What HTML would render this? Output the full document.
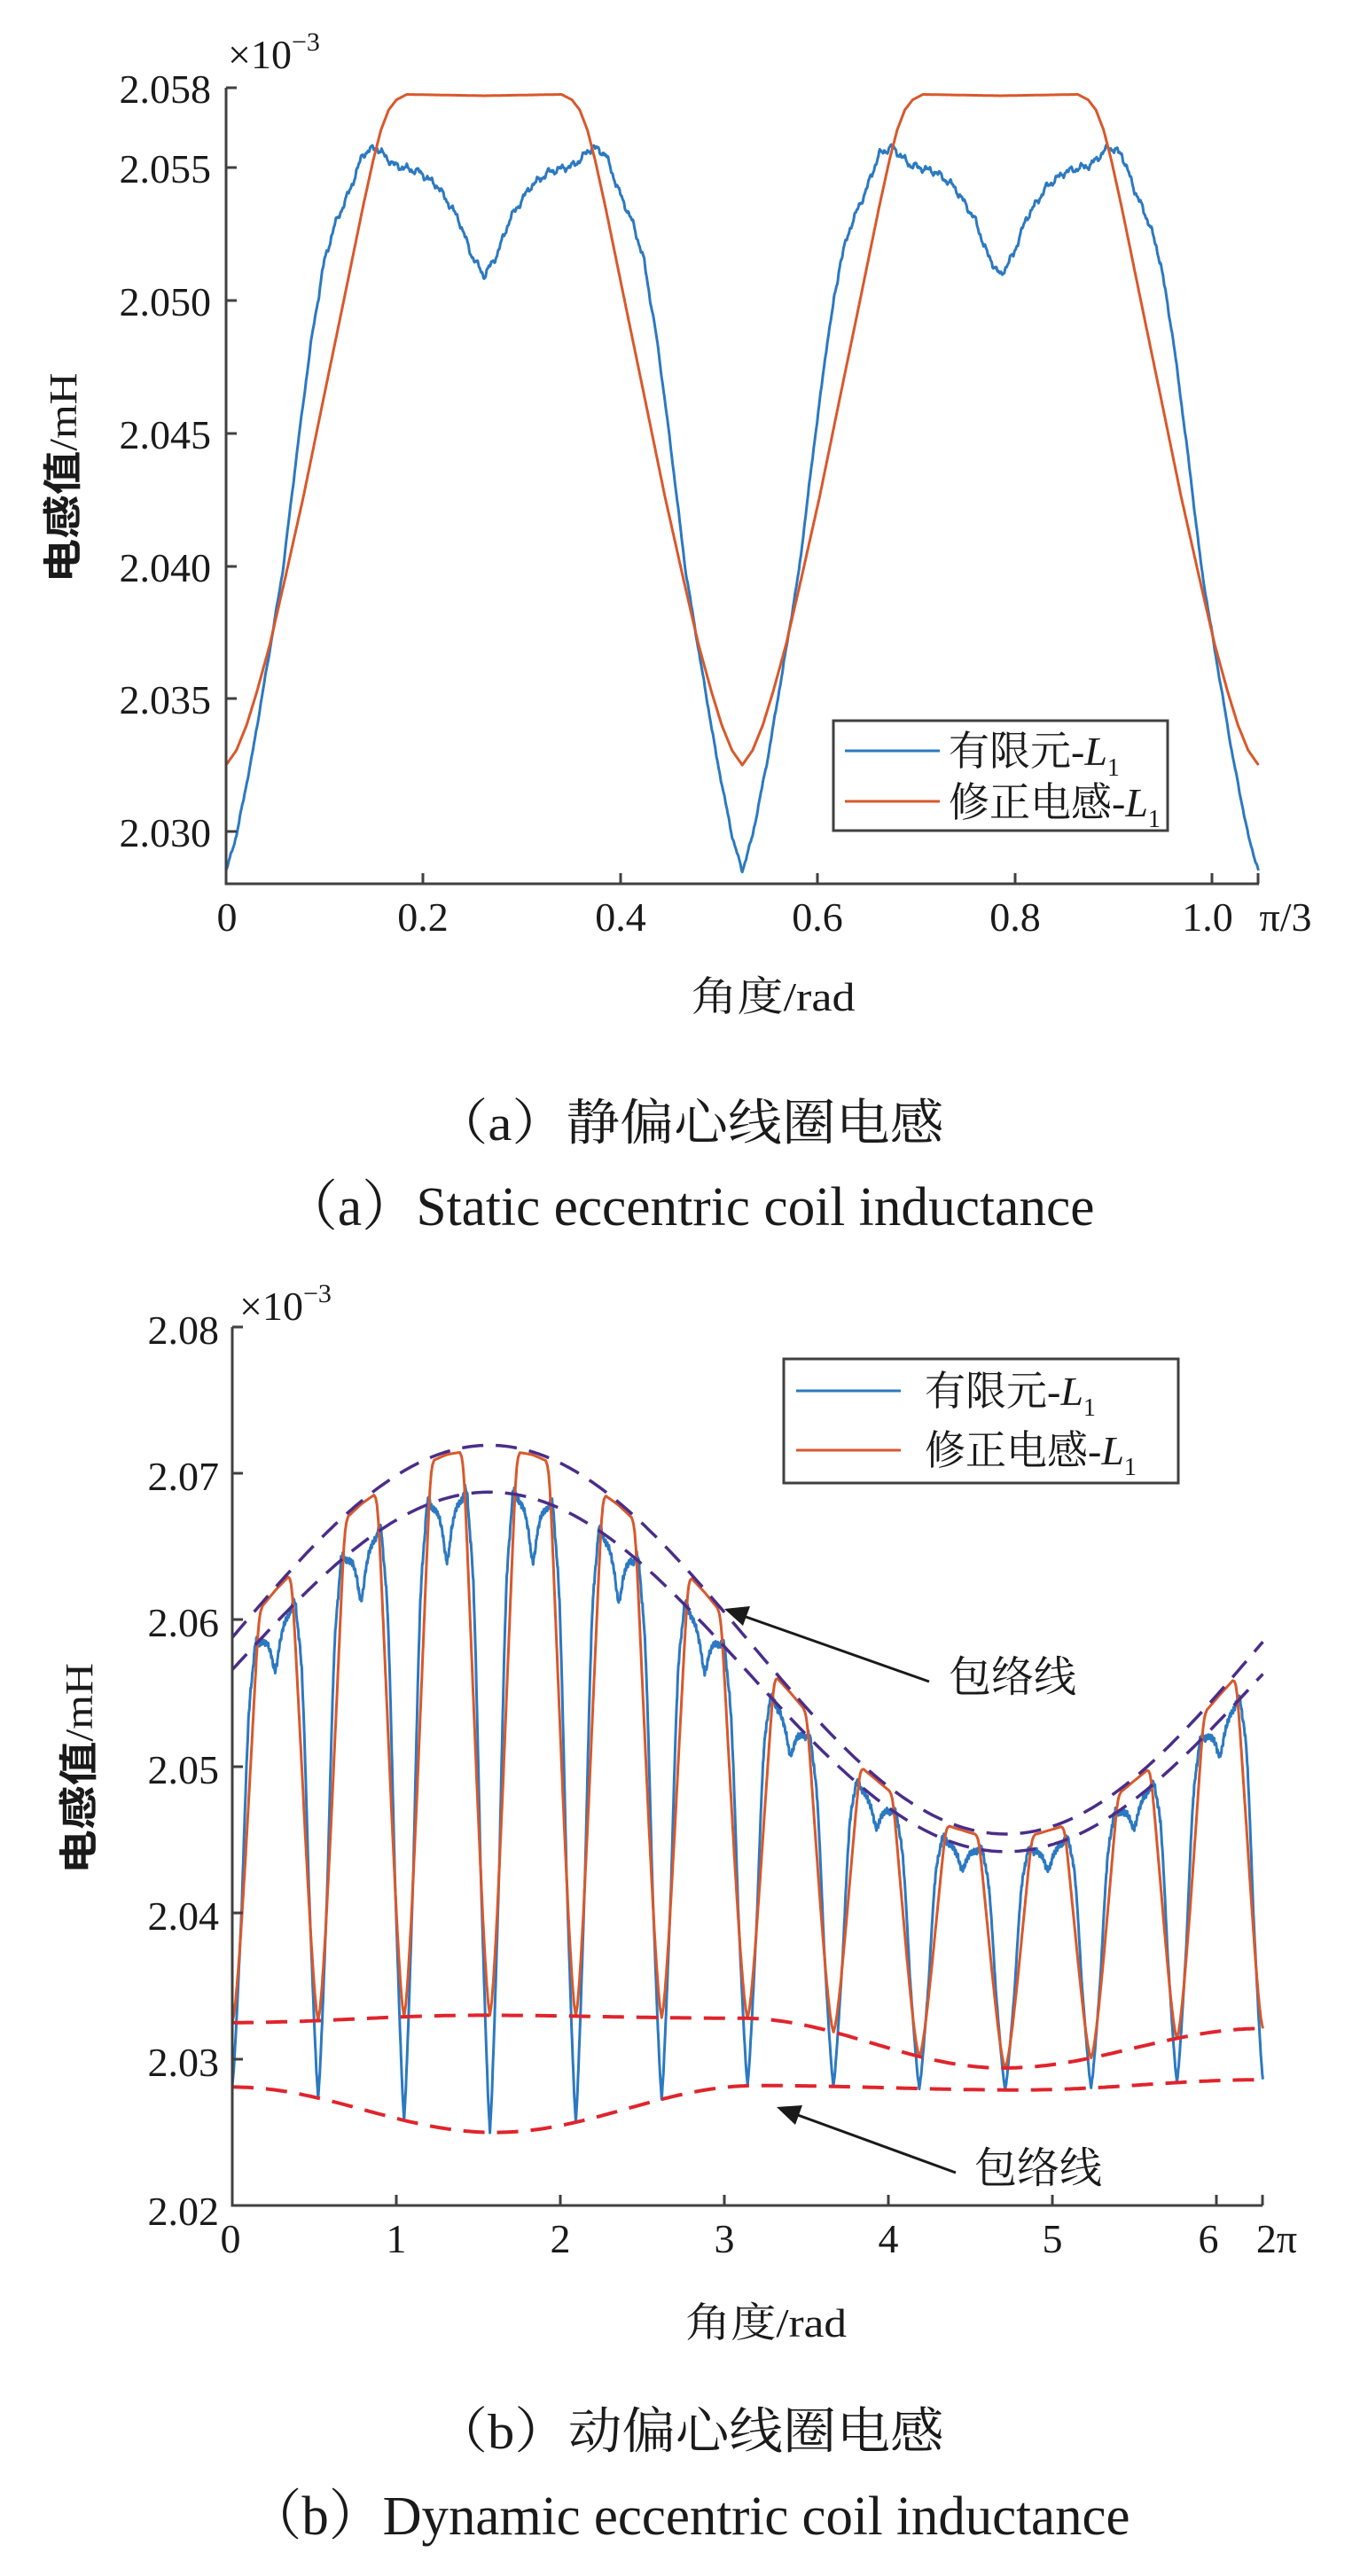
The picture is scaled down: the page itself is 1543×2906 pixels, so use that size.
<!DOCTYPE html>
<html><head><meta charset="utf-8">
<style>
html,body{margin:0;padding:0;background:#fff;}
svg{display:block;}
text{font-family:"Liberation Serif","Noto Serif CJK SC",serif;fill:#1a1a1a;}
.bold{font-family:"Liberation Sans","Noto Sans CJK SC",sans-serif;font-weight:700;}
</style></head>
<body>
<svg id="s" width="1543" height="2906" viewBox="0 0 1543 2906" xmlns="http://www.w3.org/2000/svg">
<rect width="1543" height="2906" fill="#fff"/>
<g id="plots"></g>

<g stroke="#404040" stroke-width="3" fill="none">
<path d="M255,99 V997 H1420"/>
<path d="M255,99 h12 M255,189 h12 M255,339 h12 M255,489 h12 M255,639 h12 M255,788 h12 M255,938 h12"/>
<path d="M477,997 v-12 M700,997 v-12 M922,997 v-12 M1145,997 v-12 M1367,997 v-12 M1419,997 v-12"/>
</g>
<g font-size="46" text-anchor="end">
<text x="238" y="116">2.058</text>
<text x="238" y="206">2.055</text>
<text x="238" y="356">2.050</text>
<text x="238" y="506">2.045</text>
<text x="238" y="656">2.040</text>
<text x="238" y="805">2.035</text>
<text x="238" y="955">2.030</text>
</g>
<g font-size="46" text-anchor="middle">
<text x="256" y="1050">0</text>
<text x="477" y="1050">0.2</text>
<text x="700" y="1050">0.4</text>
<text x="922" y="1050">0.6</text>
<text x="1145" y="1050">0.8</text>
<text x="1362" y="1050">1.0</text>
<text x="1450" y="1050">π/3</text>
</g>
<text x="257" y="77" font-size="46">×10<tspan dy="-20" font-size="30">−3</tspan></text>
<text transform="translate(86,539) rotate(-90)" text-anchor="middle" font-size="44" textLength="237" lengthAdjust="spacingAndGlyphs"><tspan class="bold">电感值</tspan>/mH</text>
<text x="872" y="1140" text-anchor="middle" font-size="46" textLength="185" lengthAdjust="spacingAndGlyphs">角度/rad</text>
<rect x="940" y="813" width="377" height="124" fill="#fff" stroke="#404040" stroke-width="3"/>
<line x1="953" y1="847" x2="1060" y2="847" stroke="#2b79c2" stroke-width="3"/>
<line x1="953" y1="904" x2="1060" y2="904" stroke="#d9582b" stroke-width="3"/>
<text x="1070" y="863" font-size="46">有限元-<tspan font-style="italic">L</tspan><tspan font-size="28" dy="12">1</tspan></text>
<text x="1070" y="921" font-size="46">修正电感-<tspan font-style="italic">L</tspan><tspan font-size="28" dy="12">1</tspan></text>

<text x="777" y="1286" text-anchor="middle" font-size="56" textLength="575" lengthAdjust="spacingAndGlyphs">（a）静偏心线圈电感</text>
<text x="777" y="1382" text-anchor="middle" font-size="62" textLength="915" lengthAdjust="spacingAndGlyphs">（a）Static eccentric coil inductance</text>

<g stroke="#404040" stroke-width="3" fill="none">
<path d="M262,1497 V2488 H1424"/>
<path d="M262,1497 h12 M262,1662 h12 M262,1827 h12 M262,1993 h12 M262,2158 h12 M262,2323 h12"/>
<path d="M447,2488 v-12 M632,2488 v-12 M817,2488 v-12 M1002,2488 v-12 M1187,2488 v-12 M1372,2488 v-12 M1424,2488 v-12"/>
</g>
<g font-size="46" text-anchor="end">
<text x="247" y="1516">2.08</text>
<text x="247" y="1681">2.07</text>
<text x="247" y="1846">2.06</text>
<text x="247" y="2012">2.05</text>
<text x="247" y="2177">2.04</text>
<text x="247" y="2342">2.03</text>
<text x="247" y="2510">2.02</text>
</g>
<g font-size="46" text-anchor="middle">
<text x="260" y="2541">0</text>
<text x="447" y="2541">1</text>
<text x="632" y="2541">2</text>
<text x="817" y="2541">3</text>
<text x="1002" y="2541">4</text>
<text x="1187" y="2541">5</text>
<text x="1363" y="2541">6</text>
<text x="1440" y="2541">2π</text>
</g>
<text x="270" y="1489" font-size="46">×10<tspan dy="-20" font-size="30">−3</tspan></text>
<text transform="translate(104,1995) rotate(-90)" text-anchor="middle" font-size="44" textLength="238" lengthAdjust="spacingAndGlyphs"><tspan class="bold">电感值</tspan>/mH</text>
<text x="864" y="2636" text-anchor="middle" font-size="46" textLength="182" lengthAdjust="spacingAndGlyphs">角度/rad</text>

<g stroke="#1a1a1a" stroke-width="3">
<line x1="1048" y1="1897" x2="830" y2="1820"/>
<line x1="1078" y1="2451" x2="889" y2="2382"/>
</g>
<polygon points="817,1815 846,1812 838,1834" fill="#1a1a1a"/>
<polygon points="876,2377 905,2375 897,2397" fill="#1a1a1a"/>
<text x="1142" y="1908" text-anchor="middle" font-size="48">包络线</text>
<text x="1171" y="2462" text-anchor="middle" font-size="48">包络线</text>

<rect x="884" y="1533" width="445" height="140" fill="#fff" stroke="#404040" stroke-width="3"/>
<line x1="898" y1="1569" x2="1016" y2="1569" stroke="#2b79c2" stroke-width="3"/>
<line x1="898" y1="1636" x2="1016" y2="1636" stroke="#d9582b" stroke-width="3"/>
<text x="1043" y="1585" font-size="46">有限元-<tspan font-style="italic">L</tspan><tspan font-size="28" dy="12">1</tspan></text>
<text x="1043" y="1652" font-size="46">修正电感-<tspan font-style="italic">L</tspan><tspan font-size="28" dy="12">1</tspan></text>

<text x="777" y="2762" text-anchor="middle" font-size="56" textLength="575" lengthAdjust="spacingAndGlyphs">（b）动偏心线圈电感</text>
<text x="777" y="2859" text-anchor="middle" font-size="62" textLength="995" lengthAdjust="spacingAndGlyphs">（b）Dynamic eccentric coil inductance</text>
</svg>
<script>
(function(){
var NS="http://www.w3.org/2000/svg";
var g=document.getElementById("plots");
function interp(keys,x){
  if(x<=keys[0][0])return keys[0][1];
  for(var i=1;i<keys.length;i++){
    if(x<=keys[i][0]){var a=keys[i-1],b=keys[i];var f=(x-a[0])/(b[0]-a[0]);return a[1]+(b[1]-a[1])*f;}
  }
  return keys[keys.length-1][1];
}
var redK=[[0,1],[0.3,0.998],[0.34,0.99],[0.37,0.975],[0.4,0.945],[0.43,0.9],[0.47,0.83],[0.55,0.68],[0.62,0.55],[0.7,0.4],[0.77,0.28],[0.83,0.18],[0.88,0.11],[0.92,0.06],[0.96,0.022],[1,0]];
var blueK=[[0,0.83],[0.05,0.86],[0.1,0.91],[0.18,0.955],[0.25,0.975],[0.35,0.985],[0.42,1.01],[0.47,1.0],[0.52,0.95],[0.58,0.9],[0.62,0.85],[0.67,0.74],[0.72,0.6],[0.78,0.42],[0.83,0.31],[0.9,0.16],[0.96,0.05],[1,0]];
var P=Math.PI/6,C=P/2;
function uOf(t){var p=((t%P)+P)%P;return Math.abs(p-C)/C;}
function noise(t){return (Math.sin(t*523)+0.6*Math.sin(t*1231+2)+0.4*Math.sin(t*2711+1))/2;}
function path(pts,color,w,dash){
  var d="";for(var i=0;i<pts.length;i++){d+=(i?"L":"M")+pts[i][0].toFixed(1)+","+pts[i][1].toFixed(1);}
  var p=document.createElementNS(NS,"path");p.setAttribute("d",d);p.setAttribute("fill","none");
  p.setAttribute("stroke",color);p.setAttribute("stroke-width",w);p.setAttribute("stroke-linejoin","round");
  if(dash)p.setAttribute("stroke-dasharray",dash);g.appendChild(p);
}
var TX=function(t){return 255+t*1112;},TY=function(v){return 99+(2.058-v)*29964;};
var rb=[],bb=[],N=1600,T1=Math.PI/3;
for(var i=0;i<=N;i++){
  var t=T1*i/N,u=uOf(t);
  var r=2.0325+0.0253*interp(redK,u)-(u<0.3?0.0001*(1-u/0.3):0);
  rb.push([TX(t),TY(r)]);
  var bv=interp(blueK,u);
  var amp=u<0.65?0.00018:0.00008;
  var b=2.0285+0.027*bv+amp*noise(t);
  if(b<2.0281)b=2.0281;
  bb.push([TX(t),TY(b)]);
}
path(bb,"#2b79c2",3);
path(rb,"#d9582b",3);
var BX=function(t){return 262+t*185;},BY=function(v){return 1497+(2.08-v)*16520;};
function U(t){return 2.0588+0.0132*Math.sin(t)-0.0003*t/6.28;}
function L(t){return 2.0566+0.0122*Math.sin(t)-0.0003*t/6.28;}
var R1K=[[0,2.0325],[1.5,2.0330],[3.1,2.0328],[4.7,2.0294],[6.29,2.0321]];
var R2K=[[0,2.0281],[1.6,2.0250],[3.2,2.0282],[4.8,2.0279],[6.29,2.0286]];
function cint(keys,x){
  for(var i=1;i<keys.length;i++){if(x<=keys[i][0]){var a=keys[i-1],b=keys[i];var f=(x-a[0])/(b[0]-a[0]);f=(1-Math.cos(f*Math.PI))/2;return a[1]+(b[1]-a[1])*f;}}
  return keys[keys.length-1][1];
}
var r2=[],b2=[],M=3600,T2=2*Math.PI;
for(var j=0;j<=M;j++){
  var t=T2*j/M,u=uOf(t);
  var lo=cint(R1K,t),hi=U(t)-0.0002;
  r2.push([BX(t),BY(lo+(hi-lo)*interp(redK,u))]);
  var bv=interp(blueK,u);
  if(u<0.42&&bv<1)bv=1-(1-bv)*0.6;
  var lo2=cint(R2K,t),hi2=L(t);
  var amp=u<0.65?0.00025:0.00006;
  b2.push([BX(t),BY(lo2+(hi2-lo2)*bv+amp*noise(t))]);
}
path(b2,"#2b79c2",3);
path(r2,"#d9582b",3);
var eu=[],el=[],e1=[],e2=[];
for(var k=0;k<=300;k++){var t=T2*k/300;eu.push([BX(t),BY(U(t))]);el.push([BX(t),BY(L(t))]);e1.push([BX(t),BY(cint(R1K,t))]);e2.push([BX(t),BY(cint(R2K,t))]);}
path(eu,"#4a2d8a",3.5,"24 14");
path(el,"#4a2d8a",3.5,"24 14");
path(e1,"#e0242c",4,"24 14");
path(e2,"#e0242c",4,"24 14");
})();
</script>
</body></html>
